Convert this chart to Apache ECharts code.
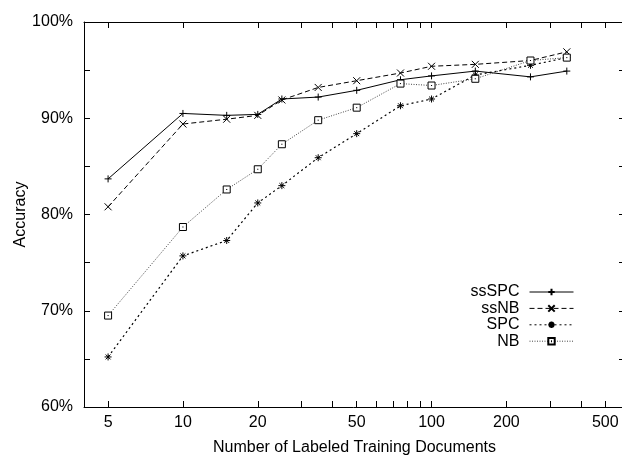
<!DOCTYPE html>
<html>
<head>
<meta charset="utf-8">
<script src="https://cdn.jsdelivr.net/npm/echarts@6/dist/echarts.min.js"></script>
<style>
    html, body { margin: 0; padding: 0; background: #fff; }
    #chart { width: 622px; height: 457px; }
</style>
</head>
<body>
<div id="chart"></div>
<script>
// number of labeled training documents
const docCounts = [5, 10, 15, 20, 25, 35, 50, 75, 100, 150, 250, 350]

// accuracy (%) per method
const ssSPC = [83.7, 90.5, 90.3, 90.4, 92.0, 92.2, 92.9, 94.0, 94.4, 94.9, 94.3, 94.9]
const ssNB = [80.8, 89.4, 89.9, 90.3, 91.9, 93.2, 93.9, 94.7, 95.4, 95.6, 96.0, 96.9]
const SPC = [65.2, 75.7, 77.3, 81.2, 83.0, 85.9, 88.4, 91.3, 92.0, 94.5, 95.5, 96.3]
const NB = [69.5, 78.7, 82.6, 84.7, 87.3, 89.8, 91.1, 93.6, 93.4, 94.1, 96.0, 96.3]

const xTickValues = [5, 10, 20, 30, 40, 50, 60, 70, 80, 90, 100, 200, 300, 400, 500]
const xLabelValues = [5, 10, 20, 50, 100, 200, 500]
const yLabelValues = [60, 70, 80, 90, 100]

const FONT = '"Liberation Sans", Arial, sans-serif'

const SYMBOL_PLUS = 'path://M0,5 L10,5 M5,0 L5,10'
const SYMBOL_CROSS = 'path://M0,0 L10,10 M10,0 L0,10'
const SYMBOL_STAR = 'path://M0,5 L10,5 M5,0 L5,10 M1.5,1.5 L8.5,8.5 M8.5,1.5 L1.5,8.5'
const SYMBOL_BOX = 'path://M0,0 L10,0 L10,10 L0,10 Z M4.2,5 L5.8,5'

const pairs = values => docCounts.map((n, i) => [n, values[i]])

const chart = echarts.init(document.getElementById('chart'))

const xAxisBase = {
    type: 'log',
    logBase: 10,
    min: 4,
    max: 600,
    axisLine: { lineStyle: { color: '#000', width: 1 } },
    axisTick: {
        inside: true,
        length: 6,
        customValues: xTickValues,
        lineStyle: { color: '#000', width: 1 },
    },
    splitLine: { show: false },
    minorTick: { show: false },
}

const yAxisBase = {
    type: 'value',
    min: 60,
    max: 100,
    interval: 5,
    axisLine: { show: true, lineStyle: { color: '#000', width: 1 } },
    axisTick: { show: true, inside: true, length: 6, lineStyle: { color: '#000', width: 1 } },
    splitLine: { show: false },
}

const lineSeries = (name, values, symbol, lineType, width, color, fill) => ({
    name,
    type: 'line',
    data: pairs(values),
    symbol,
    symbolSize: 7,
    showAllSymbol: true,
    lineStyle: { color, width, type: lineType },
    itemStyle: { color: fill, borderColor: '#000', borderWidth: 1 },
    emphasis: { disabled: true },
})

chart.setOption({
    animation: false,
    textStyle: { fontFamily: FONT },
    grid: { left: 84, right: -3, top: 22, bottom: 50, outerBoundsMode: 'none', containLabel: false },
    legend: {
        orient: 'vertical',
        align: 'right',
        right: 48,
        top: 284,
        padding: 0,
        itemGap: 0.4,
        itemWidth: 44,
        itemHeight: 8,
        lineStyle: { width: 1 },
        textStyle: { fontFamily: FONT, fontSize: 16, color: '#000', padding: [0, 5, 0, 0] },
        data: ['ssSPC', 'ssNB', 'SPC', 'NB'],
    },
    xAxis: [
        {
            ...xAxisBase,
            position: 'bottom',
            name: 'Number of Labeled Training Documents',
            nameLocation: 'middle',
            nameGap: 33,
            nameMoveOverlap: false,
            nameTextStyle: { fontFamily: FONT, fontSize: 16, color: '#000' },
            axisLabel: {
                customValues: xLabelValues,
                margin: 8,
                fontFamily: FONT,
                fontSize: 16,
                color: '#000',
            },
        },
        {
            ...xAxisBase,
            position: 'top',
            axisLabel: { show: false },
        },
    ],
    yAxis: [
        {
            ...yAxisBase,
            position: 'left',
            name: 'Accuracy',
            nameLocation: 'middle',
            nameGap: 55,
            nameMoveOverlap: false,
            nameTextStyle: { fontFamily: FONT, fontSize: 16, color: '#000' },
            axisLabel: {
                margin: 11,
                fontFamily: FONT,
                fontSize: 16,
                color: '#000',
                formatter: v => (yLabelValues.includes(v) ? v + '%' : ''),
            },
        },
        {
            ...yAxisBase,
            position: 'right',
            axisLabel: { show: false },
        },
    ],
    series: [
        lineSeries('ssSPC', ssSPC, SYMBOL_PLUS, 'solid', 1, '#000', '#000'),
        lineSeries('ssNB', ssNB, SYMBOL_CROSS, [5, 3], 1, '#000', '#000'),
        lineSeries('SPC', SPC, SYMBOL_STAR, [2, 3], 1.2, '#000', '#000'),
        lineSeries('NB', NB, SYMBOL_BOX, [1, 1.5], 1, '#444', '#fff'),
    ],
})
</script>
</body>
</html>
